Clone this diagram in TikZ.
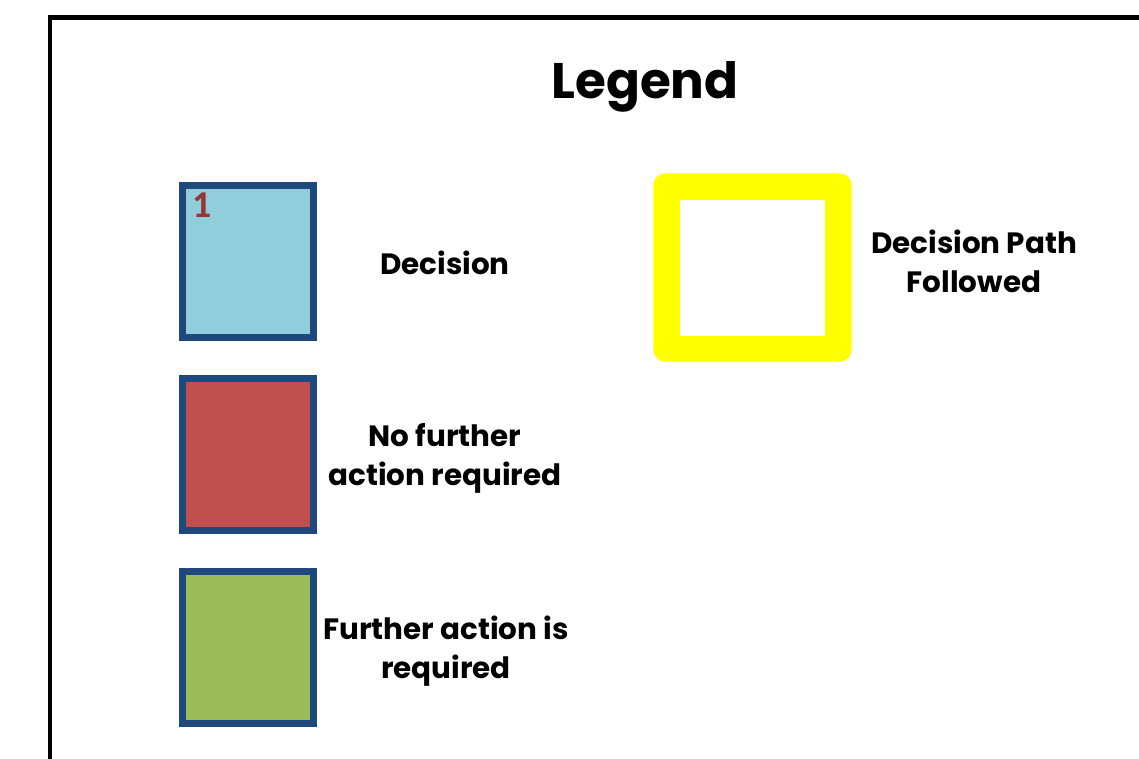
\documentclass[tikz,border=0pt]{standalone}
\usepackage{fontspec}
\setmainfont{Poppins}[BoldFont=Poppins Bold]
\newfontfamily\numfont{Carlito}
\definecolor{boxblue}{HTML}{1F497D}
\definecolor{decblue}{HTML}{92CDDC}
\definecolor{nored}{HTML}{C0504D}
\definecolor{gogreen}{HTML}{9BBB59}
\definecolor{numred}{HTML}{953735}
\definecolor{pathyellow}{HTML}{FFFF00}
\tikzset{
  legbox/.style={draw=boxblue, line width=7pt, minimum width=131pt, minimum height=152pt, inner sep=0pt},
  lbl/.style={font=\bfseries\fontsize{29.4}{39}\selectfont, align=center, inner sep=0pt},
}
\begin{document}
\begin{tikzpicture}[x=1pt,y=-1pt]
\useasboundingbox (0,0) rectangle (1139,758);
\clip (0,0) rectangle (1139,758);
\fill[white] (0,0) rectangle (1139,758);
% outer frame
\draw[line width=4.5pt] (50,770) -- (50,17.5) -- (1150,17.5);
% title
\node[font=\bfseries\fontsize{50}{56}\selectfont, inner sep=0pt] (title) at (645,86.5) {Legend};
% legend boxes
\node[legbox, fill=decblue] (dec) at (248.2,261) {};
\node[anchor=north west, inner sep=0pt, text=numred, font=\numfont\bfseries\fontsize{38}{40}\selectfont] (num) at (192,193) {1};
\node[legbox, fill=nored] (nofa) at (248.2,454) {};
\node[legbox, fill=gogreen] (fa) at (248.2,647.5) {};
% labels
\node[lbl] (decl) at (445,263) {Decision};
\node[lbl] (nofal) at (445,458) {No further\\action required};
\node[lbl] (fal) at (446,651) {Further action is\\required};
% decision path
\node[fill=pathyellow, rounded corners=12pt, minimum width=198.4pt, minimum height=188.4pt, inner sep=0pt] (path) at (752.5,267.5) {};
\node[fill=white, minimum width=145pt, minimum height=135.7pt, inner sep=0pt] (pathin) at (752.5,267.8) {};
\node[lbl] (pathl) at (974,261.5) {Decision Path\\Followed};
\end{tikzpicture}
\end{document}
